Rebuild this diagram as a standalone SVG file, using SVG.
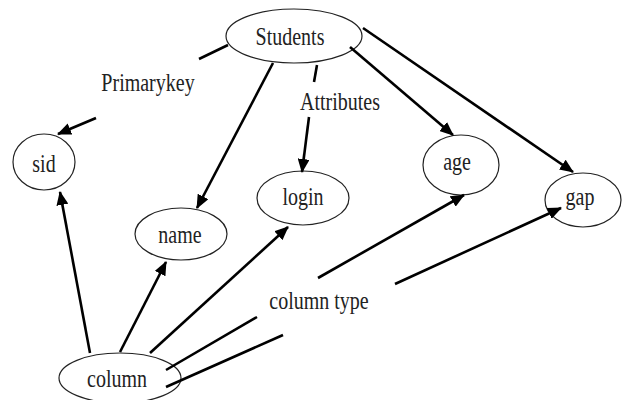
<svg xmlns="http://www.w3.org/2000/svg" width="622" height="400" viewBox="0 0 622 400">
<defs>
<style>
.n{fill:#fff;stroke:#222;stroke-width:1.2}
.t{font-family:"Liberation Serif","Times New Roman",serif;font-size:20px;fill:#222;text-anchor:middle}
.e{stroke:#000;stroke-width:2.6;fill:none}
</style>
<marker id="ah" markerUnits="userSpaceOnUse" markerWidth="14" markerHeight="12" refX="13" refY="6" orient="auto">
<path d="M0,0 L14,6 L0,12 Z" fill="#000"/>
</marker>
</defs>
<rect width="622" height="400" fill="#fff"/>
<g id="Students"><ellipse class="n" cx="294" cy="36" rx="68" ry="27"/><text class="t" transform="translate(290,45) scale(1,1.25)">Students</text></g>
<g id="sid"><ellipse class="n" cx="44" cy="162" rx="31" ry="28"/><text class="t" transform="translate(44,172) scale(1,1.25)">sid</text></g>
<g id="name"><ellipse class="n" cx="181" cy="234" rx="46" ry="26"/><text class="t" transform="translate(180,243) scale(1,1.25)">name</text></g>
<g id="login"><ellipse class="n" cx="303" cy="198" rx="46" ry="27"/><text class="t" transform="translate(303,205) scale(1,1.25)">login</text></g>
<g id="age"><ellipse class="n" cx="461" cy="165" rx="38" ry="30"/><text class="t" transform="translate(457,170) scale(1,1.25)">age</text></g>
<g id="gap"><ellipse class="n" cx="583" cy="200" rx="38" ry="27"/><text class="t" transform="translate(580,205) scale(1,1.25)">gap</text></g>
<g id="column"><ellipse class="n" cx="120" cy="378" rx="61" ry="25"/><text class="t" transform="translate(117,387) scale(1,1.25)">column</text></g>
<g id="connectors">
<line class="e" x1="228" y1="45" x2="199" y2="59"/>
<line class="e" x1="96" y1="118" x2="58" y2="134" marker-end="url(#ah)"/>
<line class="e" x1="273" y1="63" x2="197" y2="208" marker-end="url(#ah)"/>
<line class="e" x1="317" y1="65" x2="314" y2="82"/>
<line class="e" x1="309" y1="117" x2="302" y2="172" marker-end="url(#ah)"/>
<line class="e" x1="350" y1="47" x2="453" y2="135" marker-end="url(#ah)"/>
<line class="e" x1="363" y1="28" x2="573" y2="172" marker-end="url(#ah)"/>
<line class="e" x1="90" y1="353" x2="60" y2="192" marker-end="url(#ah)"/>
<line class="e" x1="120" y1="352" x2="166" y2="262" marker-end="url(#ah)"/>
<line class="e" x1="150" y1="353" x2="288" y2="227" marker-end="url(#ah)"/>
<line class="e" x1="166" y1="370" x2="257" y2="317"/>
<line class="e" x1="318" y1="278" x2="464" y2="195" marker-end="url(#ah)"/>
<line class="e" x1="166" y1="387" x2="283" y2="335"/>
<line class="e" x1="395" y1="284" x2="561" y2="208" marker-end="url(#ah)"/>
</g>
<g id="labels">
<text class="t" transform="translate(148,91) scale(1,1.25)">Primarykey</text>
<text class="t" transform="translate(340,110) scale(1,1.25)">Attributes</text>
<text class="t" transform="translate(319,309) scale(1,1.25)">column type</text>
</g>
</svg>
